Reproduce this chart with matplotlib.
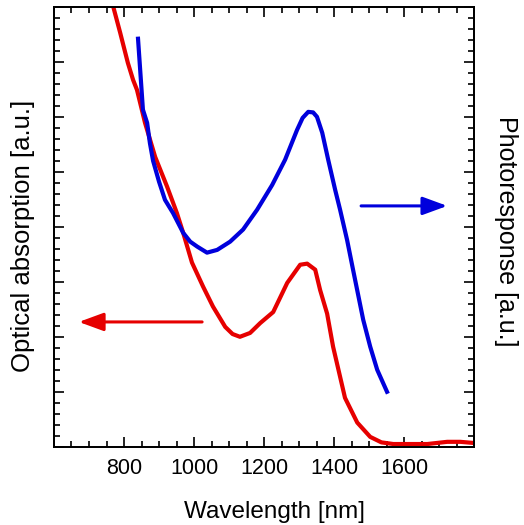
import matplotlib
matplotlib.use("Agg")
import matplotlib.pyplot as plt
from matplotlib.ticker import MultipleLocator, NullFormatter

plt.rcParams['font.family'] = ['Liberation Sans', 'DejaVu Sans']

# optical absorption (left axis)
abs_wl = [771, 789, 811, 826, 837, 860, 889, 923, 951, 969, 994, 1026, 1054,
          1089, 1110, 1131, 1160, 1189, 1226, 1266, 1303, 1323, 1346, 1360, 1380,
          1397, 1431, 1466, 1503, 1535, 1569, 1666, 1723, 1760, 1797]
abs_val = [7.96, 7.53, 6.98, 6.67, 6.49, 5.89, 5.27, 4.73, 4.25, 3.89, 3.35,
           2.91, 2.55, 2.18, 2.05, 2.00, 2.07, 2.25, 2.45, 2.98, 3.31, 3.33, 3.22,
           2.85, 2.42, 1.82, 0.89, 0.44, 0.18, 0.08, 0.05, 0.05, 0.09, 0.09, 0.07]

# photoresponse (right axis)
pr_wl = [840, 854, 866, 874, 883, 900, 917, 940, 969, 989, 1009, 1037, 1066, 1103,
         1140, 1180, 1223, 1260, 1294, 1310, 1326, 1340, 1351, 1366, 1383, 1403, 1417,
         1437, 1454, 1483, 1503, 1523, 1551]
pr_val = [7.42, 6.13, 5.89, 5.52, 5.20, 4.82, 4.49, 4.25, 3.89, 3.73, 3.64, 3.53, 3.58,
          3.73, 3.95, 4.31, 4.76, 5.22, 5.76, 5.98, 6.09, 6.08, 6.00, 5.71, 5.22, 4.67,
          4.31, 3.76, 3.22, 2.31, 1.82, 1.40, 1.00]

red = '#e60000'
blue = '#0000dc'

fig = plt.figure(figsize=(5.24, 5.25), dpi=100)
ax = fig.add_axes([0.103, 0.149, 0.802, 0.838])
ax2 = ax.twinx()

ax.plot(abs_wl, abs_val, color=red, lw=3, solid_joinstyle='round')
ax2.plot(pr_wl, pr_val, color=blue, lw=3, solid_joinstyle='round')

ax.set_xlim(600, 1800)
ax.set_ylim(0, 8)
ax2.set_ylim(0, 8)

ax.xaxis.set_major_locator(MultipleLocator(200))
ax.xaxis.set_minor_locator(MultipleLocator(50))
ax.set_xticks([800, 1000, 1200, 1400, 1600])
for a in (ax, ax2):
    a.yaxis.set_major_locator(MultipleLocator(1))
    a.yaxis.set_minor_locator(MultipleLocator(0.2))
    a.yaxis.set_major_formatter(NullFormatter())
    a.tick_params(which='both', direction='in', width=1.2, top=True)
    a.tick_params(which='major', length=7)
    a.tick_params(which='minor', length=4)
    for s in a.spines.values():
        s.set_linewidth(1.3)
ax.tick_params(axis='x', labelsize=15.5, pad=8)
ax.tick_params(axis='y', left=True, right=False)
ax2.tick_params(axis='y', right=True, left=False)

ax.set_xlabel('Wavelength [nm]', fontsize=17.5, labelpad=16)
ax.set_ylabel('Optical absorption [a.u.]', fontsize=18.5, labelpad=10)
ax2.set_ylabel('Photoresponse [a.u.]', fontsize=18, rotation=270, labelpad=28)
ax.xaxis.label.set_x(0.524)
ax.yaxis.label.set_y(0.48)
ax2.yaxis.label.set_y(0.49)

ax.annotate('', xy=(671, 2.27), xytext=(1023, 2.27),
            arrowprops=dict(arrowstyle='-|>,head_length=1.5,head_width=0.55',
                            color=red, lw=2.2, mutation_scale=10, shrinkA=0, shrinkB=0))
ax2.annotate('', xy=(1723, 4.38), xytext=(1477, 4.38),
             arrowprops=dict(arrowstyle='-|>,head_length=1.5,head_width=0.55',
                             color=blue, lw=2.2, mutation_scale=10, shrinkA=0, shrinkB=0))

fig.savefig('out.png', dpi=100)
